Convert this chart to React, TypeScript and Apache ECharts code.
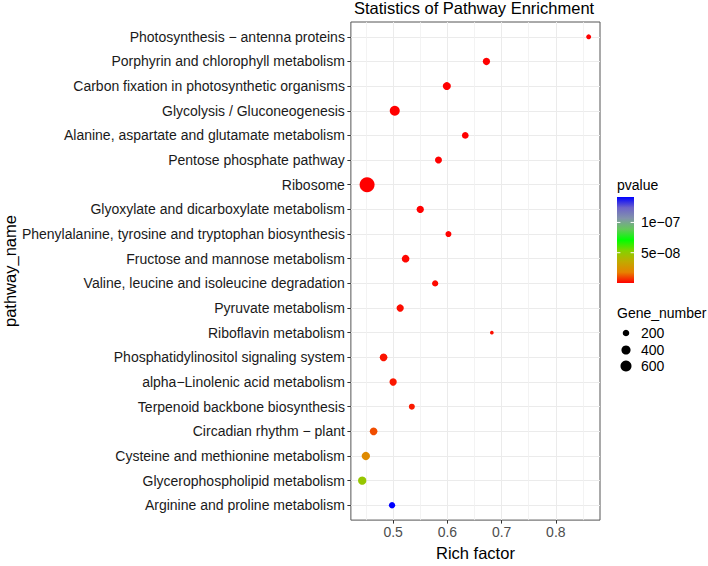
import React, { useEffect, useRef } from "react";
import * as echarts from "echarts";

const pathways = [
  "Photosynthesis − antenna proteins",
  "Porphyrin and chlorophyll metabolism",
  "Carbon fixation in photosynthetic organisms",
  "Glycolysis / Gluconeogenesis",
  "Alanine, aspartate and glutamate metabolism",
  "Pentose phosphate pathway",
  "Ribosome",
  "Glyoxylate and dicarboxylate metabolism",
  "Phenylalanine, tyrosine and tryptophan biosynthesis",
  "Fructose and mannose metabolism",
  "Valine, leucine and isoleucine degradation",
  "Pyruvate metabolism",
  "Riboflavin metabolism",
  "Phosphatidylinositol signaling system",
  "alpha−Linolenic acid metabolism",
  "Terpenoid backbone biosynthesis",
  "Circadian rhythm − plant",
  "Cysteine and methionine metabolism",
  "Glycerophospholipid metabolism",
  "Arginine and proline metabolism",
];

const richFactor = [
  0.8605, 0.672, 0.599, 0.503, 0.633, 0.5836, 0.452, 0.55, 0.602, 0.523,
  0.5775, 0.513, 0.682, 0.4824, 0.5, 0.5345, 0.464, 0.4497, 0.443, 0.498,
];

const geneNumber = [
  110, 250, 305, 490, 208, 228, 1130, 250, 164, 280,
  183, 250, 55, 280, 250, 164, 280, 327, 327, 183,
];

const pValue = [
  2.1e-12, 4.5e-11, 8.0e-14, 1.3e-15, 6.2e-12, 3.4e-12, 1.0e-20, 5.1e-11, 2.3e-10, 7.6e-10,
  1.2e-9, 1.6e-9, 2.0e-9, 2.6e-9, 3.1e-9, 3.5e-9, 1.05e-8, 2.1e-8, 4.8e-8, 1.42e-7,
];

const xTickValues = [0.5, 0.6, 0.7, 0.8];
const xMinorGrid = [0.45, 0.55, 0.65, 0.75, 0.85];
const colorBreaks = [1e-7, 5e-8];
const colorBreakLabels = ["1e−07", "5e−08"];
const sizeBreaks = [200, 400, 600];
const colorStops = [
  "#ff0000", "#e68200", "#c0ab00", "#84d200", "#00ff00",
  "#64c85a", "#8294aa", "#6e64c8", "#0000ff",
];

const FONT = "'Liberation Sans', Arial, Helvetica, sans-serif";

const sizeOf = (n: number) => 0.43 * Math.sqrt(n) + 0.5;

export default function App() {
  const ref = useRef<HTMLDivElement>(null);
  useEffect(() => {
    const chart = echarts.init(ref.current!, null, { renderer: "svg" });

    const xmin0 = Math.min(...richFactor);
    const xmax0 = Math.max(...richFactor);
    const span = xmax0 - xmin0;
    const xMin = xmin0 - 0.05 * span;
    const xMax = xmax0 + 0.05 * span;
    const pMin = Math.min(...pValue);
    const pMax = Math.max(...pValue);
    const indices = pathways.map((_, i) => i);

    const data = pathways.map((name, i) => [richFactor[i], i, geneNumber[i], pValue[i], name]);

    const cbX = 617, cbY = 197, cbW = 17, cbH = 86;
    const cbYof = (v: number) => cbY + cbH - ((v - pMin) / (pMax - pMin)) * cbH;
    const legendYs = [333, 350, 366];
    const txt = (text: string, x: number, y: number) => ({
      type: "text",
      x,
      y,
      style: {
        text,
        font: `14px ${FONT}`,
        fill: "#000",
        textAlign: "left",
        textVerticalAlign: "middle",
        align: "left",
        verticalAlign: "middle",
      },
    });

    const graphics: any[] = [
      txt("pvalue", 617, 185),
      {
        type: "rect",
        shape: { x: cbX, y: cbY, width: cbW, height: cbH },
        style: {
          fill: new echarts.graphic.LinearGradient(0, 1, 0, 0,
            colorStops.map((c, i) => ({ offset: i / (colorStops.length - 1), color: c }))),
        },
      },
      txt("Gene_number", 617, 313),
    ];
    colorBreaks.forEach((v, i) => {
      const y = cbYof(v);
      graphics.push(
        { type: "line", shape: { x1: cbX, y1: y, x2: cbX + 3.4, y2: y }, style: { stroke: "#fff", lineWidth: 1 } },
        { type: "line", shape: { x1: cbX + cbW - 3.4, y1: y, x2: cbX + cbW, y2: y }, style: { stroke: "#fff", lineWidth: 1 } },
        txt(colorBreakLabels[i], 641, y)
      );
    });
    sizeBreaks.forEach((n, i) => {
      graphics.push(
        { type: "circle", shape: { cx: 626, cy: legendYs[i], r: sizeOf(n) / 2 }, style: { fill: "#000" } },
        txt(String(n), 641, legendYs[i])
      );
    });

    chart.setOption({
      animation: false,
      backgroundColor: "#fff",
      textStyle: { fontFamily: FONT },
      title: {
        text: "Statistics of Pathway Enrichment",
        left: 474,
        top: -1,
        textAlign: "center",
        padding: 0,
        textStyle: { fontSize: 16.5, fontWeight: "normal", color: "#000", fontFamily: FONT },
      },
      grid: {
        left: 348,
        right: 108,
        top: 22,
        bottom: 34,
        show: true,
        borderColor: "#555",
        borderWidth: 1,
        backgroundColor: "transparent",
      },
      xAxis: [
        {
          type: "value",
          min: xMin,
          max: xMax,
          position: "bottom",
          name: "Rich factor",
          nameLocation: "middle",
          nameGap: 23,
          nameTextStyle: { fontSize: 16.5, color: "#000", fontFamily: FONT, verticalAlign: "top" },
          axisLine: { show: false, onZero: false },
          axisTick: { show: true, customValues: xTickValues, length: 3.5, lineStyle: { color: "#333" } },
          axisLabel: {
            customValues: xTickValues,
            color: "#4d4d4d",
            fontSize: 14,
            margin: 5,
            fontFamily: FONT,
            formatter: (v: number) => String(Math.round(v * 10) / 10),
          },
          splitLine: { show: true, lineStyle: { color: "#ebebeb", width: 1 } },
        },
        {
          type: "value",
          min: xMin,
          max: xMax,
          position: "bottom",
          axisLine: { show: false, onZero: false },
          axisTick: { show: false, customValues: xMinorGrid },
          axisLabel: { show: false, customValues: xMinorGrid },
          splitLine: { show: true, lineStyle: { color: "#f0f0f0", width: 0.8 } },
        },
      ],
      yAxis: {
        type: "value",
        inverse: true,
        min: -0.6,
        max: pathways.length - 1 + 0.6,
        name: "pathway_name",
        nameLocation: "middle",
        nameRotate: 90,
        nameGap: 330,
        nameTextStyle: { fontSize: 16.5, color: "#000", fontFamily: FONT },
        axisLine: { show: false, onZero: false },
        axisTick: { show: true, customValues: indices, length: 3.5, lineStyle: { color: "#333" } },
        axisLabel: {
          customValues: indices,
          formatter: (v: number) => pathways[Math.round(v)] ?? "",
          color: "#1a1a1a",
          fontSize: 14,
          margin: 6,
          fontFamily: FONT,
        },
        splitLine: { show: true, lineStyle: { color: "#ebebeb", width: 1 } },
      },
      visualMap: {
        show: false,
        type: "continuous",
        seriesIndex: 0,
        dimension: 3,
        min: pMin,
        max: pMax,
        inRange: { color: colorStops },
      },
      series: [
        {
          type: "scatter",
          data,
          xAxisIndex: 0,
          symbol: "circle",
          symbolSize: (val: number[]) => sizeOf(val[2]),
          itemStyle: { opacity: 1 },
          z: 3,
        },
      ],
      graphic: graphics,
    });
    return () => chart.dispose();
  }, []);
  return (
    <div
      ref={ref}
      style={{ position: "fixed", left: 0, top: 0, width: 708, height: 566, background: "#fff" }}
    />
  );
}
